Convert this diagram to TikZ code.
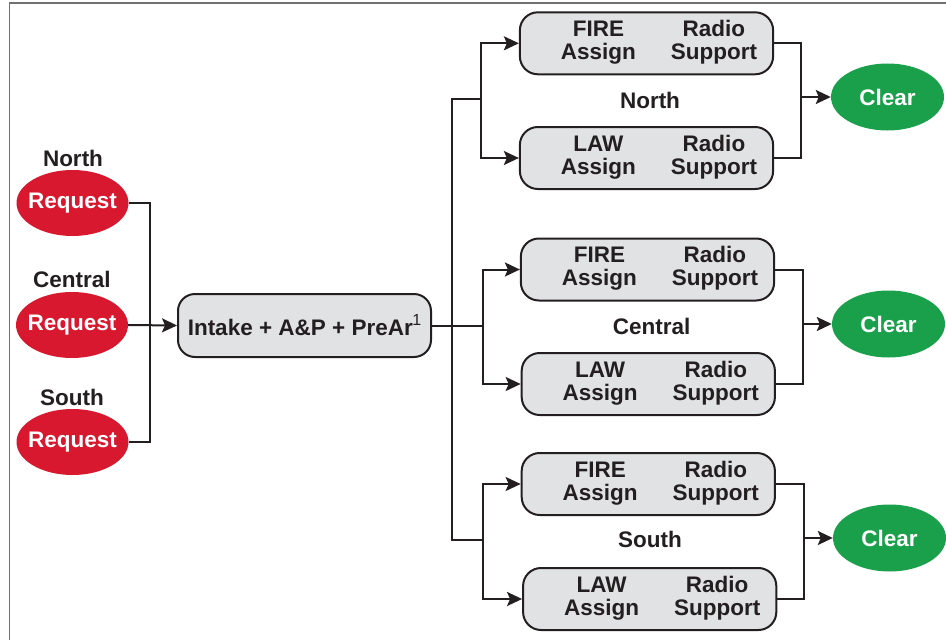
\documentclass[tikz,border=0pt]{standalone}
\usepackage{fontspec}
\setmainfont{Liberation Sans}
\usetikzlibrary{arrows.meta,shapes.geometric}

\definecolor{reqred}{HTML}{D7182F}
\definecolor{okgreen}{HTML}{1A9F4B}
\definecolor{boxgray}{HTML}{E1E2E4}
\definecolor{ink}{HTML}{231F20}
\definecolor{framegray}{HTML}{707070}

% two-column label used in every dispatch box
\newcommand{\twocol}[1]{\hspace*{25pt}\begin{tabular}{@{}c@{\hspace{35pt}}c@{}}#1 & Radio\\Assign & Support\end{tabular}}
% ellipse label that does not widen the ellipse
\newcommand{\ovaltext}[1]{\makebox[0pt]{#1}}

\begin{document}
\begin{tikzpicture}[x=1pt,y=-1pt,
  font=\fontsize{22.5}{23}\selectfont\bfseries,
  wire/.style={draw=ink, line width=2pt},
  flow/.style={wire, -{Stealth[length=15pt,width=14pt,inset=3pt]}},
  reqnode/.style={ellipse, fill=reqred, text=white, minimum width=112pt, minimum height=66pt, inner sep=0pt},
  donenode/.style={ellipse, fill=okgreen, text=white, minimum width=113pt, minimum height=67pt, inner sep=0pt},
  taskbox/.style={draw=ink, line width=2pt, fill=boxgray, rounded corners=18pt,
    minimum width=253pt, minimum height=62pt, inner xsep=16pt, inner ysep=0pt, text=ink},
  zone/.style={text=ink, inner sep=0pt},
]
\useasboundingbox (0,0) rectangle (946,640);

% outer frame
\draw[framegray, line width=1.3pt] (9.7,640) -- (9.7,3) -- (946,3);

% requests from the three zones
\node[zone] (lnorth) at (73,158) {North};
\node[reqnode] (nreq) at (72.5,203) {\ovaltext{Request}};
\node[zone] (lcentral) at (72,279) {Central};
\node[reqnode] (creq) at (72,325) {\ovaltext{Request}};
\node[zone] (lsouth) at (72,397) {South};
\node[reqnode] (sreq) at (72.5,442) {\ovaltext{Request}};

% intake
\node[draw=ink, line width=2pt, fill=boxgray, rounded corners=17pt,
      minimum width=253pt, minimum height=63pt, inner xsep=6pt, text=ink]
      (intake) at (304.5,325.5)
      {Intake + A\&P + PreAr\kern-0.5pt\raisebox{10pt}{\fontsize{16}{16}\selectfont\mdseries 1}};

\coordinate (ljoin) at (150,325);
\draw[wire] (nreq.east) -| (ljoin) |- (sreq.east);
\draw[flow] (creq.east) -- (intake.west);

% trunk and branch points
\coordinate (ttop) at (452,99);
\coordinate (tbot) at (452,539.5);
\coordinate (nbr) at (481,99);
\coordinate (cbr) at (483,325.5);
\coordinate (sbr) at (483,539.5);
\draw[wire] (nbr) -- (ttop) -- (tbot) -- (sbr);
\draw[wire] (intake.east) -- (cbr);

% north group
\node[taskbox] (nfire) at (646.5,43.3) {\twocol{FIRE}};
\node[taskbox] (nlaw) at (646.5,158) {\twocol{LAW}};
\node[zone] (gnorth) at (650,100) {North};
\node[donenode] (nclear) at (887.5,97) {\ovaltext{Clear}};
\coordinate (nmerge) at (801,97);
\draw[flow] (nbr) |- (nfire.west);
\draw[flow] (nbr) |- (nlaw.west);
\draw[wire] (nfire.east) -| (nmerge) |- (nlaw.east);
\draw[flow] (nmerge) -- (nclear.west);

% central group
\node[taskbox] (cfire) at (647.5,269.5) {\twocol{FIRE}};
\node[taskbox] (claw) at (648.3,384) {\twocol{LAW}};
\node[zone] (gcentral) at (651.7,326) {Central};
\node[donenode] (cclear) at (888.5,324) {\ovaltext{Clear}};
\coordinate (cmerge) at (803,324);
\draw[flow] (cbr) |- (cfire.west);
\draw[flow] (cbr) |- (claw.west);
\draw[wire] (cfire.east) -| (cmerge) |- (claw.east);
\draw[flow] (cmerge) -- (cclear.west);

% south group
\node[taskbox] (sfire) at (648.3,484) {\twocol{FIRE}};
\node[taskbox] (slaw) at (649.7,599) {\twocol{LAW}};
\node[zone] (gsouth) at (650,539) {South};
\node[donenode] (sclear) at (889.5,538) {\ovaltext{Clear}};
\coordinate (smerge) at (804,538);
\draw[flow] (sbr) |- (sfire.west);
\draw[flow] (sbr) |- (slaw.west);
\draw[wire] (sfire.east) -| (smerge) |- (slaw.east);
\draw[flow] (smerge) -- (sclear.west);
\end{tikzpicture}
\end{document}
